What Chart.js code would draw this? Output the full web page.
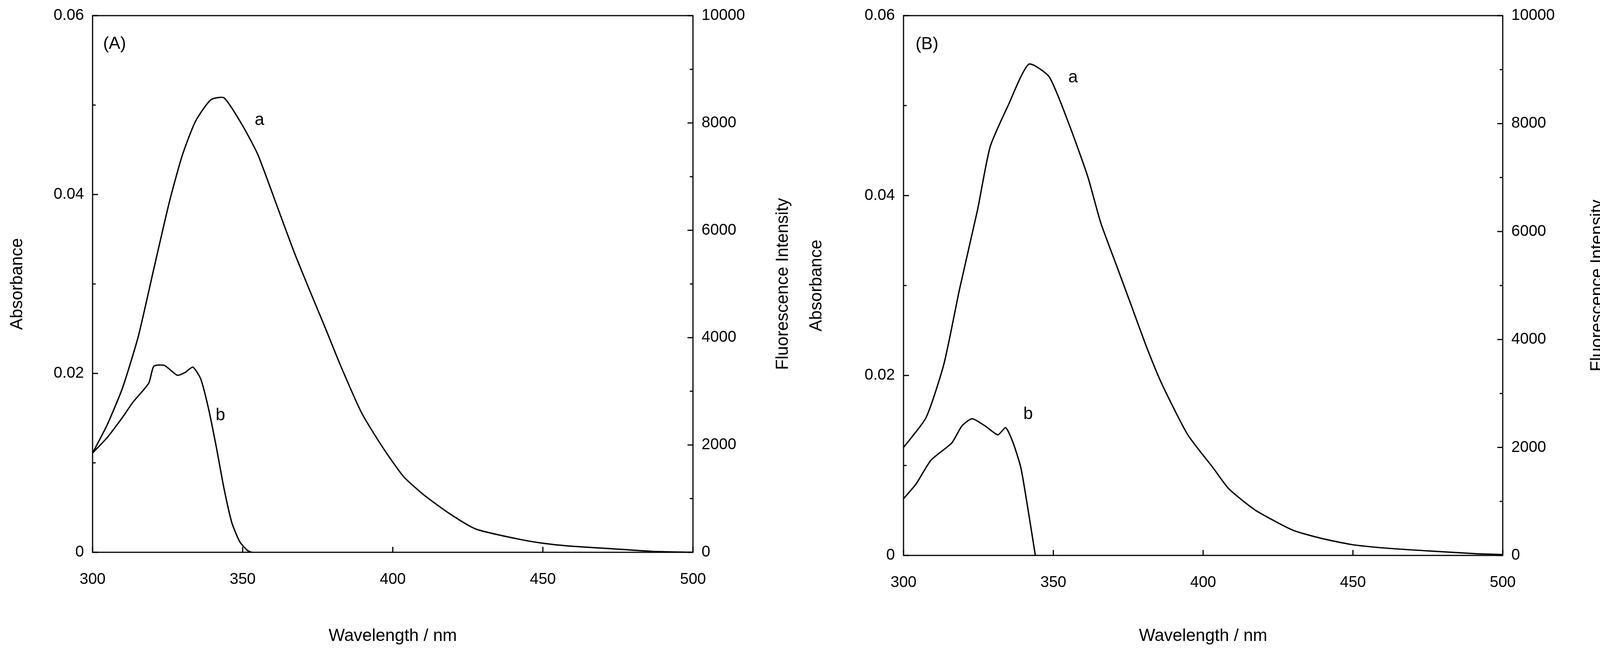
<!DOCTYPE html>
<html><head><meta charset="utf-8">
<script src="https://cdn.jsdelivr.net/npm/chart.js@4"></script>
<style>body{margin:0;background:#fff;width:4119px;height:1659px;position:relative;overflow:hidden}
.p{position:absolute;top:0;width:2060px;height:1659px}</style></head>
<body><div class="p" style="left:0"><canvas id="cA"></canvas></div><div class="p" style="left:2060px"><canvas id="cB"></canvas></div>
<script>
const xTicks=[300,350,400,450,500];
const absTicks=[0,0.02,0.04,0.06];
const fluTicks=[0,2000,4000,6000,8000,10000];
// Panel A curve a (fluorescence)
const aA_x=[300,304.8,310,315.2,320.4,325.6,329.9,334.3,339.4,343.8,349.8,355,361.9,367.1,372.3,377.5,382.7,389.6,396.5,403.5,410.4,419,427.7,441.5,450.2,458.8,472.7,486.5,500];
const aA_y=[1850,2367,3067,4017,5283,6533,7400,8033,8433,8467,7967,7417,6383,5600,4883,4183,3467,2600,1967,1417,1067,717,433,250,167,117,67,17,0];
// Panel A curve b (absorbance)
const bA_x=[300,304.8,310,313.5,318.7,320.4,323.9,328.2,330.8,333.4,336,338.6,341.2,343.8,346.4,349,351.6,353];
const bA_y=[0.0111,0.0128,0.0151,0.0168,0.0189,0.0208,0.0209,0.0198,0.0201,0.0207,0.0194,0.0161,0.0118,0.0071,0.0033,0.0012,0.0002,0];
// Panel B curve a (fluorescence)
const aB_x=[300,307.5,313.5,318.7,324.7,328.9,334.9,341.8,348.6,355.5,361.5,365.8,370.9,376,381.2,386.3,394.9,403.4,408.6,417.1,425.7,430.8,439.4,449.7,461.6,475.3,490.8,500];
const aB_y=[2000,2550,3550,4933,6400,7567,8333,9100,8867,7950,7017,6167,5400,4633,3850,3167,2233,1617,1233,850,583,450,317,200,133,83,33,17];
// Panel B curve b (absorbance)
const bB_x=[300,304.1,309.2,316.1,319.5,322.9,327.2,331.5,334.1,336.6,339.2,341.8,344];
const bB_y=[0.0063,0.0079,0.0106,0.0125,0.0144,0.0152,0.0144,0.0134,0.0142,0.0125,0.0097,0.0046,0];
const labelsA=[["(A)",303.5,0.0568],["a",354,0.0483],["b",341,0.0153]];
const labelsB=[["(B)",304,0.0568],["a",355,0.0531],["b",340,0.0157]];

const F='"Liberation Sans", Arial, sans-serif';
function pts(xs,ys){return xs.map((x,i)=>({x:x,y:ys[i]}));}
function make(id,ax,ay,bx,by,labels,leftPad,leftW,rightW,bottomH,rtX){
  const tickPlug={id:'tk',afterDatasetsDraw(c){
    const g=c.ctx,ca=c.chartArea,s=c.scales;g.save();g.strokeStyle='#000';g.lineWidth=3;
    g.strokeRect(ca.left,ca.top,ca.right-ca.left,ca.bottom-ca.top);
    g.beginPath();
    for(let v=300;v<=500;v+=50){const p=s.x.getPixelForValue(v);g.moveTo(p,ca.bottom);g.lineTo(p,ca.bottom-14);}
    for(let v=0;v<=6;v++){const p=s.y.getPixelForValue(v/100);const L=v%2?8:14;g.moveTo(ca.left,p);g.lineTo(ca.left+L,p);}
    for(let v=0;v<=10;v++){const p=s.y2.getPixelForValue(v*1000);const L=v%2?8:14;g.moveTo(ca.right,p);g.lineTo(ca.right-L,p);}
    g.stroke();
    g.fillStyle='#000';g.font='44px '+F;g.textAlign='left';g.textBaseline='middle';
    labels.forEach(l=>g.fillText(l[0],s.x.getPixelForValue(l[1]),s.y.getPixelForValue(l[2])));
    g.translate(rtX,(ca.top+ca.bottom)/2);g.rotate(-Math.PI/2);g.textAlign='center';
    g.fillText('Fluorescence Intensity',0,0);
    g.restore();}};
  new Chart(document.getElementById(id),{type:'scatter',
    data:{datasets:[
      {data:pts(ax,ay),yAxisID:'y2',showLine:true,borderColor:'#000',borderWidth:3.5,pointRadius:0,tension:0.2},
      {data:pts(bx,by),yAxisID:'y',showLine:true,borderColor:'#000',borderWidth:3.5,pointRadius:0,tension:0.2}]},
    options:{responsive:false,animation:false,devicePixelRatio:1,
      layout:{padding:{top:40,right:0,left:leftPad,bottom:0}},
      plugins:{legend:{display:false},tooltip:{enabled:false}},
      scales:{
        x:{type:'linear',min:300,max:500,afterBuildTicks:a=>{a.ticks=xTicks.map(v=>({value:v}))},
          grid:{display:false},border:{display:false},
          ticks:{color:'#000',font:{size:40,family:F},padding:38},
          title:{display:true,text:'Wavelength / nm',color:'#000',font:{size:44,family:F},padding:{top:50}},
          afterFit:a=>{a.height=bottomH}},
        y:{position:'left',min:0,max:0.06,afterBuildTicks:a=>{a.ticks=absTicks.map(v=>({value:v}))},
          grid:{display:false},border:{display:false},
          ticks:{color:'#000',font:{size:40,family:F},padding:14,callback:v=>v===0?'0':String(v)},
          title:{display:true,text:'Absorbance',color:'#000',font:{size:44,family:F}},
          afterFit:a=>{a.width=leftW}},
        y2:{position:'right',min:0,max:10000,afterBuildTicks:a=>{a.ticks=fluTicks.map(v=>({value:v}))},
          grid:{display:false},border:{display:false},
          ticks:{color:'#000',font:{size:40,family:F},padding:14,callback:v=>String(v)},
          afterFit:a=>{a.width=rightW}}}},
    plugins:[tickPlug]});
}
['cA','cB'].forEach(i=>{const c=document.getElementById(i);c.width=2060;c.height=1659;});
make('cA',aA_x,aA_y,bA_x,bA_y,labelsA,14,223,286,245,2005);
make('cB',aB_x,aB_y,bB_x,bB_y,labelsB,0,253,273,237,2030);
</script></body></html>
